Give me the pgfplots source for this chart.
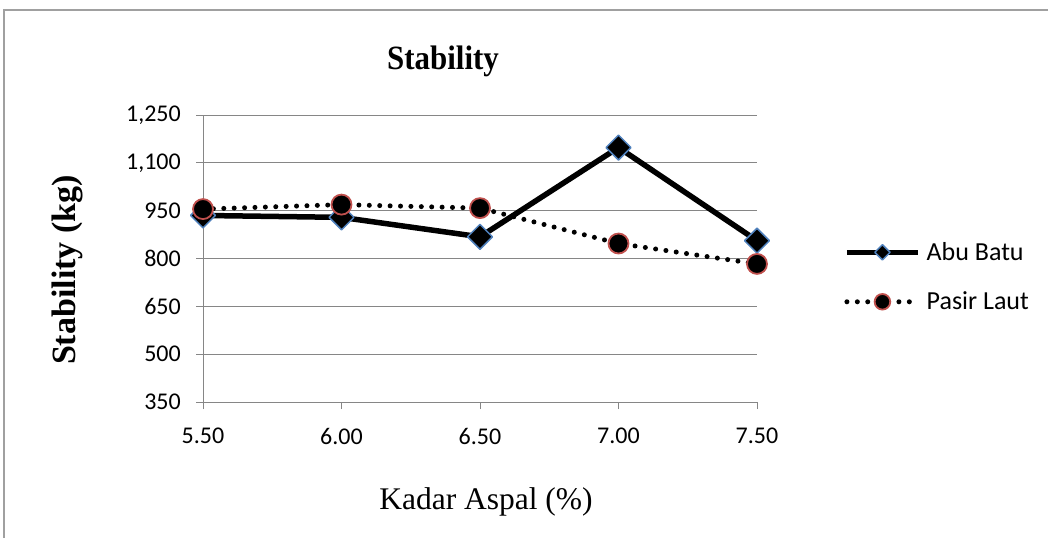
\documentclass[border=0pt]{standalone}
\usepackage{fontspec}
\usepackage{pgfplots}
\pgfplotsset{compat=1.18}
\setmainfont{Liberation Serif}
\newfontfamily\calibri{Carlito}

\definecolor{axgray}{HTML}{868686}
\definecolor{bordergray}{HTML}{A0A0A0}
\definecolor{markblue}{HTML}{4F81BD}
\definecolor{markred}{HTML}{C0504D}

\newcommand\ticksfont{\calibri\fontsize{24}{28}\selectfont}
\newcommand\legendfont{\calibri\fontsize{26}{30}\selectfont}

\pgfplotsset{
  abu/.style={black, line width=5.5pt, line join=round,
    mark=square*, mark size=8.8pt,
    mark options={solid, rotate=45, fill=black, draw=markblue, line width=1.5pt}},
  pasir/.style={black, line width=5pt, line cap=round,
    dash pattern=on 0pt off 10.4pt,
    mark=*, mark size=10pt,
    mark options={solid, fill=black, draw=markred, line width=1.8pt}},
}

\begin{document}
\begin{tikzpicture}
\useasboundingbox (0,0) rectangle (1048pt,538pt);
\fill[white] (0,0) rectangle (1048pt,538pt);
% chart frame
\draw[bordergray, line width=1.3pt] (4pt,0pt) -- (4pt,528pt) -- (1048pt,528pt);

\begin{axis}[
  at={(203pt,136pt)}, anchor=south west,
  width=554pt, height=287pt, scale only axis,
  xmin=5.5, xmax=7.5, ymin=350, ymax=1250,
  xtick={5.5,6,6.5,7,7.5},
  ytick={350,500,650,800,950,1100,1250},
  axis lines=left,
  axis line style={-, draw=axgray, line width=1pt},
  ymajorgrids, grid style={draw=axgray, line width=1pt},
  tick align=outside, major tick length=7pt,
  tick style={draw=axgray, line width=1pt},
  /pgf/number format/assume math mode=true,
  ticklabel style={font=\ticksfont, inner sep=0pt},
  xticklabel style={yshift=-19pt,
    /pgf/number format/.cd, fixed, fixed zerofill, precision=2},
  yticklabel style={xshift=-15pt,
    /pgf/number format/.cd, fixed, precision=0, 1000 sep={,}},
  clip=false,
  legend style={at={(axis description cs:1.157,0.4355)}, anchor=west,
    draw=none, fill=none, inner sep=0pt, font=\legendfont,
    row sep=30pt,
    nodes={inner sep=0pt},
    /tikz/every odd column/.append style={column sep=6pt}},
  legend cell align=left,
  legend image code/.code={%
    \draw[mark repeat=2, mark phase=2, #1]
      plot coordinates {(0pt,0pt) (35.5pt,0pt) (71pt,0pt)};},
]
\addlegendimage{abu, mark size=5.4pt}
\addlegendentry{Abu Batu}
\addlegendimage{pasir, mark size=7.8pt}
\addlegendentry{Pasir Laut}

\addplot[abu, forget plot] coordinates {
  (5.5,935) (6.0,929) (6.5,868) (7.0,1148) (7.5,856)};
\addplot[pasir, forget plot] coordinates {
  (5.5,955) (6.0,969) (6.5,958) (7.0,847) (7.5,783)};
\end{axis}

\node[anchor=base, font=\bfseries\fontsize{34}{38}\selectfont, xscale=0.91]
  at (443pt,468pt) {Stability};
\node[anchor=base, rotate=90, font=\bfseries\fontsize{34}{38}\selectfont]
  at (75pt,268pt) {Stability (kg)};
\node[anchor=base, font=\fontsize{31.5}{36}\selectfont]
  at (486pt,29pt) {Kadar Aspal (\%)};
\end{tikzpicture}
\end{document}
